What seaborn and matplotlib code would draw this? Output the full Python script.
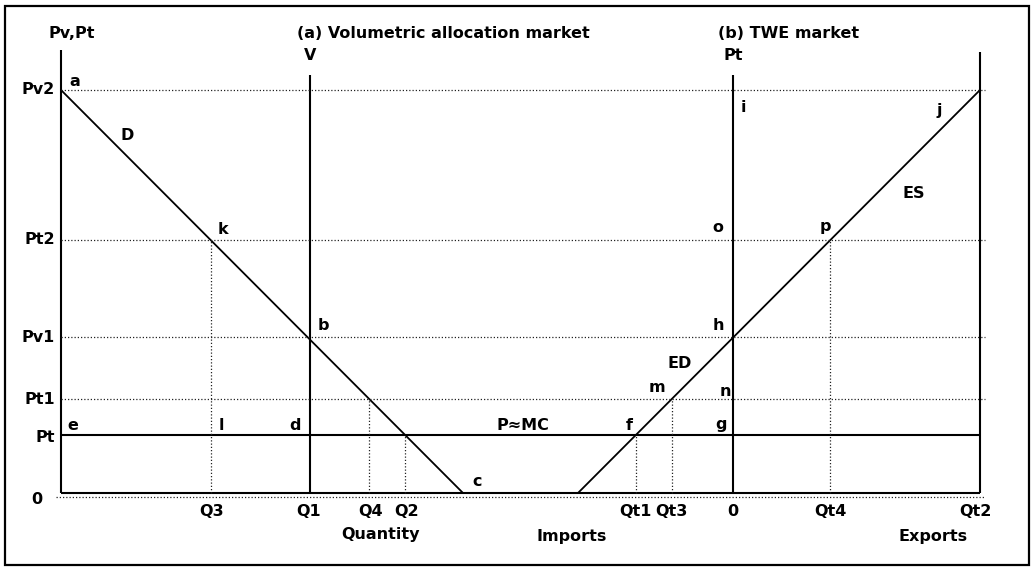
import numpy as np
import pandas as pd
import matplotlib
matplotlib.use("Agg")
import matplotlib.pyplot as plt
from matplotlib.patches import Rectangle
import seaborn as sns

# Price levels (vertical axis) and their labels
price_labels = ["Pt", "Pt1", "Pv1", "Pt2", "Pv2"]
price_levels = [58, 94, 156, 253, 403]

# Demand curve D in the volumetric allocation market
demand_q = [0, 402]
demand_p = [403, 0]

# Excess demand / excess supply curve (ED / ES) in the TWE market
excess_q = [517, 919]
excess_p = [0, 403]

# Vertical axes: origin axis, V axis, Pt axis, export limit axis
axis_left = 0
axis_v = 249
axis_pt = 672
axis_right = 919

P = dict(zip(price_labels, price_levels))


def demand_at(p):
    return np.interp(p, demand_p[::-1], demand_q[::-1])


def excess_at(p):
    return np.interp(p, excess_p, excess_q)


# Quantity tick labels and their positions
q_labels = ["Q3", "Q1", "Q4", "Q2"]
q_prices = [P["Pt2"], P["Pv1"], P["Pt1"], P["Pt"]]
qt_labels = ["Qt1", "Qt3", "0", "Qt4", "Qt2"]
qt_prices = [P["Pt"], P["Pt1"], P["Pv1"], P["Pt2"], P["Pv2"]]

sns.set_theme(style="white")
plt.rcParams["font.family"] = ["DejaVu Sans"]

fig = plt.figure(figsize=(10.34, 5.67), dpi=100)
ax = fig.add_axes([0, 0, 1, 1])
ax.set_xlim(-61, 973)
ax.set_ylim(-74, 493)
ax.axis("off")

# Outer frame
ax.add_patch(Rectangle((-56, -72), 1024, 559, fill=False, lw=1.6,
                       edgecolor="black", zorder=1))

solid = dict(color="black", lw=1.5)
dotted = dict(color="#222222", lw=0.9, linestyle=(0, (1, 1.6)))

# Curves
sns.lineplot(x=demand_q, y=demand_p, ax=ax, color="black", lw=1.3,
             sort=False, estimator=None)
sns.lineplot(x=excess_q, y=excess_p, ax=ax, color="black", lw=1.3,
             sort=False, estimator=None)

# Axes
ax.vlines(axis_left, 0, 443, **solid)
ax.vlines(axis_v, 0, 418, **solid)
ax.vlines(axis_pt, 0, 418, **solid)
ax.vlines(axis_right, 0, 441, **solid)
ax.hlines(0, axis_left, axis_right, **solid)
ax.hlines(P["Pt"], axis_left, axis_right, **solid)

# Dotted price guides
for name in ["Pt1", "Pv1", "Pt2", "Pv2"]:
    ax.hlines(P[name], axis_left, axis_right + 5, **dotted)
ax.hlines(-4, axis_left - 5, axis_right + 5, **dotted)

# Dotted quantity guides
for p in [P["Pt2"], P["Pt1"], P["Pt"]]:
    ax.vlines(demand_at(p), 0, p, **dotted)
for p in [P["Pt"], P["Pt1"], P["Pt2"]]:
    ax.vlines(excess_at(p), 0, p, **dotted)

fs = 11.5
bold = dict(fontsize=fs, fontweight="bold", color="black")

# Price labels on the left
for name in price_labels:
    ax.text(-6, P[name] - (3 if name == "Pt" else 0), name, ha="right",
            va="center", **bold)
ax.text(-24, -7, "0", ha="center", va="center", **bold)

# Quantity labels
for lab, p in zip(q_labels, q_prices):
    ax.text(demand_at(p) + 1, -18, lab, ha="center", va="center", **bold)
for lab, p in zip(qt_labels, qt_prices):
    x = axis_pt if lab == "0" else excess_at(p)
    if lab == "Qt2":
        x = axis_right - 5
    ax.text(x, -18, lab, ha="center", va="center", **bold)
ax.text(319, -42, "Quantity", ha="center", va="center", **bold)
ax.text(511, -43, "Imports", ha="center", va="center", **bold)
ax.text(872, -43, "Exports", ha="center", va="center", **bold)

# Titles and axis names
ax.text(11, 460, "Pv,Pt", ha="center", va="center", **bold)
ax.text(236, 460, "(a) Volumetric allocation market", ha="left",
        va="center", **bold)
ax.text(657, 460, "(b) TWE market", ha="left", va="center", **bold)
ax.text(axis_v, 437, "V", ha="center", va="center", **bold)
ax.text(axis_pt, 437, "Pt", ha="center", va="center", **bold)

# Point labels
points = [
    ("a", 14, 412), ("D", 66, 358), ("k", 162, 264), ("b", 262, 167),
    ("c", 416, 12), ("e", 12, 68), ("l", 160, 68), ("d", 234, 68),
    ("P\u2248MC", 462, 68), ("f", 568, 68), ("g", 660, 68),
    ("m", 596, 105), ("n", 664, 102), ("ED", 619, 129), ("h", 657, 168),
    ("o", 657, 266), ("p", 764, 266), ("ES", 853, 300),
    ("i", 682, 385), ("j", 878, 383),
]
for lab, x, y in points:
    ax.text(x, y, lab, ha="center", va="center", **bold)

fig.savefig("out.png", dpi=100, facecolor="white")
